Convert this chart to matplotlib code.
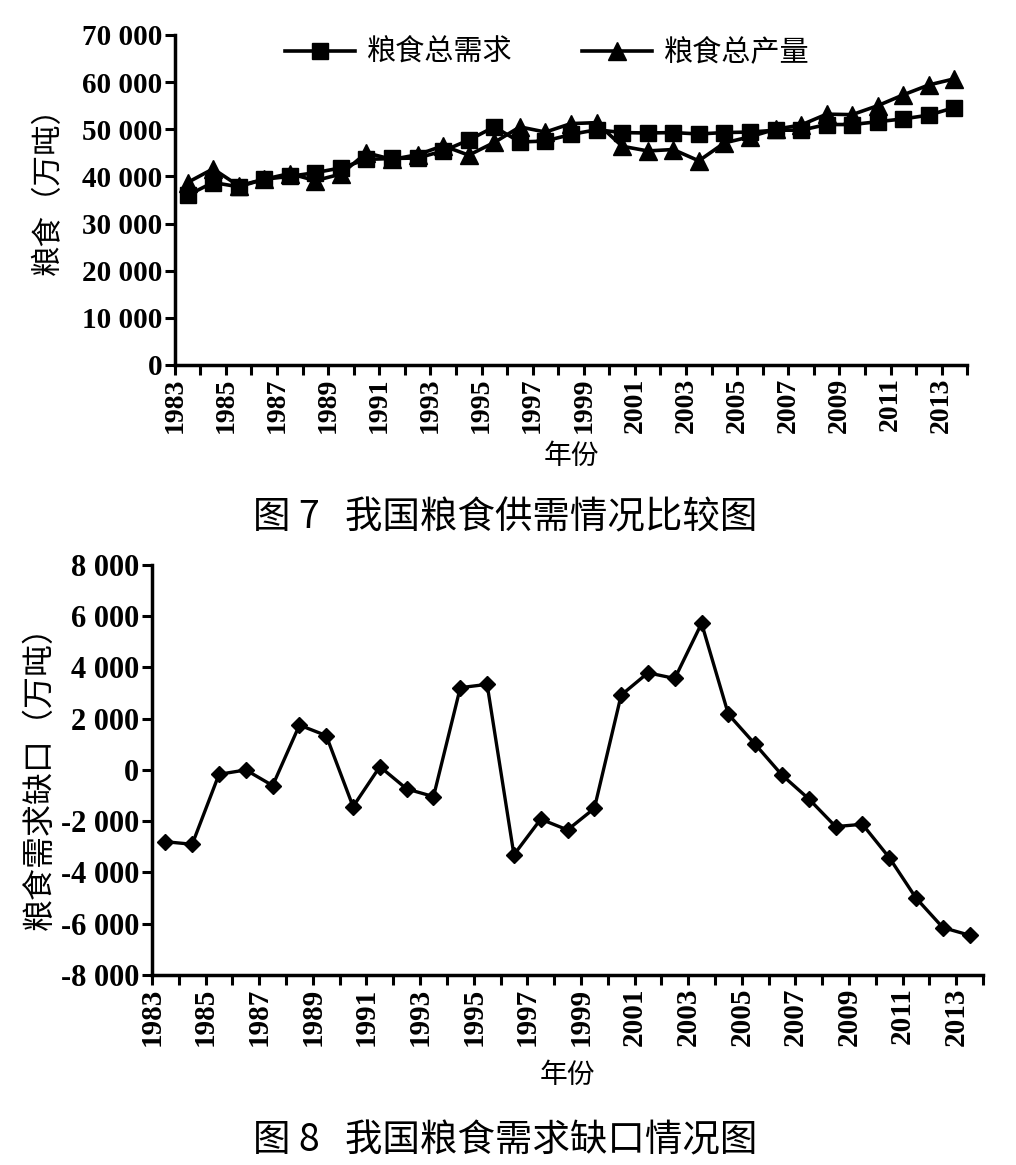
import numpy as np
import matplotlib
matplotlib.use("Agg")
import matplotlib.pyplot as plt
from matplotlib.ticker import FuncFormatter

years = np.arange(1983, 2014)

# 粮食总需求 / 粮食总产量 (万吨)
demand = [36000, 38700, 37800, 39400, 40000, 40800, 41800, 43600, 43800, 43900,
          45400, 47700, 50500, 47300, 47500, 48900, 49900, 49300, 49200, 49300,
          49000, 49300, 49400, 49800, 49800, 51000, 51000, 51600, 52200, 53000,
          54600]
production = [38700, 41600, 38000, 39400, 40600, 39100, 40500, 45000, 43600, 44600,
              46500, 44500, 47200, 50500, 49400, 51200, 51400, 46400, 45400, 45700,
              43300, 47100, 48400, 50000, 50900, 53200, 53100, 55000, 57300, 59400,
              60700]

# 粮食需求缺口 (万吨)
gap = [-2800, -2900, -170, 0, -610, 1750, 1340, -1430, 130, -740,
       -1040, 3210, 3340, -3310, -1920, -2340, -1500, 2920, 3790, 3570,
       5720, 2170, 1000, -200, -1130, -2210, -2120, -3420, -5000, -6150,
       -6450]

num_font = dict(family="Liberation Serif", weight="bold")
cjk = ["Noto Sans CJK SC", "DejaVu Sans"]

fig = plt.figure(figsize=(10.16, 11.65), dpi=100)
fig.patch.set_facecolor("white")

ax1 = fig.add_axes([0.172, 0.6867, 0.780, 0.2833])
ax2 = fig.add_axes([0.1496, 0.1631, 0.818, 0.352])

x = years + 0.5  # points sit in the middle of each year's slot

ax1.plot(x, demand, color="black", lw=2.6, marker="s", ms=11, label="粮食总需求")
ax1.plot(x, production, color="black", lw=2.6, marker="^", ms=13, label="粮食总产量")
ax1.set_ylim(0, 70000)
ax1.set_yticks(np.arange(0, 70001, 10000))

ax2.plot(x, gap, color="black", lw=2.4, marker="D", ms=8.5)
ax2.set_ylim(-8000, 8000)
ax2.set_yticks(np.arange(-8000, 8001, 2000))

fmt = FuncFormatter(lambda v, p: f"{v:,.0f}".replace(",", " "))

for ax, fs, xpad in ((ax1, 21, 6), (ax2, 22, 10)):
    ax.set_xlim(1983, 2014)
    ticks = np.arange(1983, 2015)
    ax.set_xticks(ticks)
    ax.set_xticklabels([str(t) if (t % 2 == 1 and t <= 2013) else "" for t in ticks],
                       rotation=90, fontsize=fs - 1, **num_font)
    ax.yaxis.set_major_formatter(fmt)
    for lab in ax.get_yticklabels():
        lab.set_fontsize(fs)
        lab.set_fontfamily("Liberation Serif")
        lab.set_fontweight("bold")
    ax.tick_params(direction="out", length=7, width=2.2, colors="black", pad=2)
    ax.spines["top"].set_visible(False)
    ax.spines["right"].set_visible(False)
    ax.spines["left"].set_linewidth(2.5)
    ax.spines["bottom"].set_linewidth(2.5)
    ax.set_facecolor("white")
    ax.set_xlabel("年份", fontsize=20, family=cjk, labelpad=xpad)

ax1.set_ylabel("粮食（万吨）", fontsize=22, family=cjk, labelpad=6)
ax1.yaxis.set_label_coords(-0.14, 0.55)
ax2.set_ylabel("粮食需求缺口（万吨）", fontsize=23, family=cjk, labelpad=4)

ax1.legend(loc="upper center", bbox_to_anchor=(0.47, 1.07), ncol=2, frameon=False,
           prop={"family": cjk, "size": 21}, handlelength=2.4, columnspacing=2.4,
           handletextpad=0.4)

fig.text(0.497, 0.555, "图 7   我国粮食供需情况比较图", ha="center", va="center",
         fontsize=27, family=cjk)
fig.text(0.497, 0.021, "图 8   我国粮食需求缺口情况图", ha="center", va="center",
         fontsize=27, family=cjk)

fig.savefig("out.png", dpi=100, facecolor="white")
